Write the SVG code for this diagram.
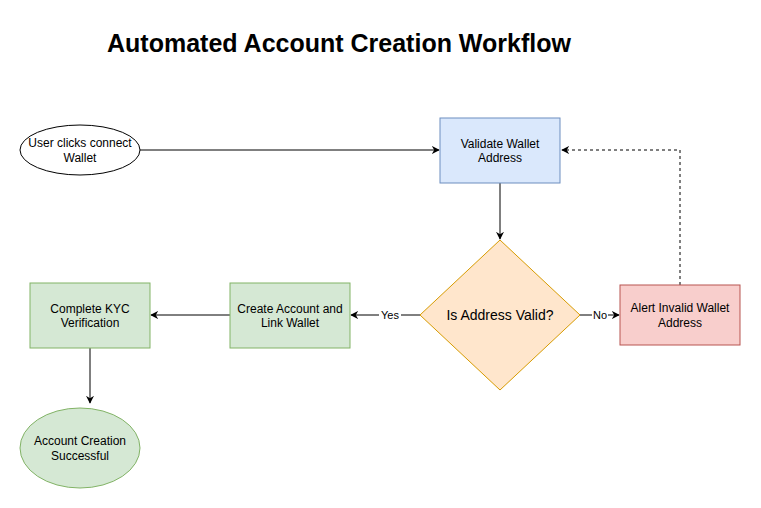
<svg xmlns="http://www.w3.org/2000/svg" width="761" height="508" viewBox="0 0 761 508">
<style>
text{font-family:"Liberation Sans",Arial,sans-serif;fill:#000;}
.t{font-size:12px;text-anchor:middle;}
.lbl{font-size:11px;text-anchor:middle;}
.e{stroke:#000;stroke-width:1;fill:none;}
</style>
<defs>
<marker id="ar" viewBox="0 0 10 10" refX="9" refY="5" markerWidth="8" markerHeight="8" markerUnits="userSpaceOnUse" orient="auto">
<path d="M0,0 L10,5 L0,10 L3,5 Z" fill="#000"/>
</marker>
</defs>
<rect width="761" height="508" fill="#fff"/>
<text x="107" y="52" style="font-size:25px;font-weight:bold;">Automated Account Creation Workflow</text>
<g id="connectors">
<path class="e" d="M140,150 L439,150" marker-end="url(#ar)"/>
<path class="e" d="M500,183 L500,239" marker-end="url(#ar)"/>
<path class="e" d="M680,285 L680,150 L562,150" stroke-dasharray="3,3" marker-end="url(#ar)"/>
<path class="e" d="M580,315 L619,315" marker-end="url(#ar)"/>
<path class="e" d="M420,315 L351,315" marker-end="url(#ar)"/>
<path class="e" d="M230,315 L151,315" marker-end="url(#ar)"/>
<path class="e" d="M90,348 L90,403" marker-end="url(#ar)"/>
<rect x="592" y="308" width="16" height="14" fill="#fff"/>
<text class="lbl" x="600" y="319">No</text>
<rect x="379" y="308" width="22" height="14" fill="#fff"/>
<text class="lbl" x="390" y="319">Yes</text>
</g>
<g id="start">
<ellipse cx="80" cy="150" rx="60" ry="25" fill="#fff" stroke="#000"/>
<text class="t" x="80" y="147">User clicks connect</text>
<text class="t" x="80" y="162">Wallet</text>
</g>
<g id="validate">
<rect x="440" y="118" width="120" height="65" fill="#dae8fc" stroke="#6c8ebf"/>
<text class="t" x="500" y="148">Validate Wallet</text>
<text class="t" x="500" y="162">Address</text>
</g>
<g id="decision">
<polygon points="500,240 580,315 500,390 420,315" fill="#ffe6cc" stroke="#d79b00"/>
<text x="500" y="320" style="font-size:14px;text-anchor:middle;">Is Address Valid?</text>
</g>
<g id="alert">
<rect x="620" y="285" width="120" height="60" fill="#f8cecc" stroke="#b85450"/>
<text class="t" x="680" y="312">Alert Invalid Wallet</text>
<text class="t" x="680" y="327">Address</text>
</g>
<g id="create">
<rect x="230" y="283" width="120" height="65" fill="#d5e8d4" stroke="#82b366"/>
<text class="t" x="290" y="313">Create Account and</text>
<text class="t" x="290" y="327">Link Wallet</text>
</g>
<g id="kyc">
<rect x="30" y="283" width="120" height="65" fill="#d5e8d4" stroke="#82b366"/>
<text class="t" x="90" y="313">Complete KYC</text>
<text class="t" x="90" y="327">Verification</text>
</g>
<g id="success">
<ellipse cx="80" cy="448" rx="60" ry="40" fill="#d5e8d4" stroke="#82b366"/>
<text class="t" x="80" y="445">Account Creation</text>
<text class="t" x="80" y="460">Successful</text>
</g>
</svg>
